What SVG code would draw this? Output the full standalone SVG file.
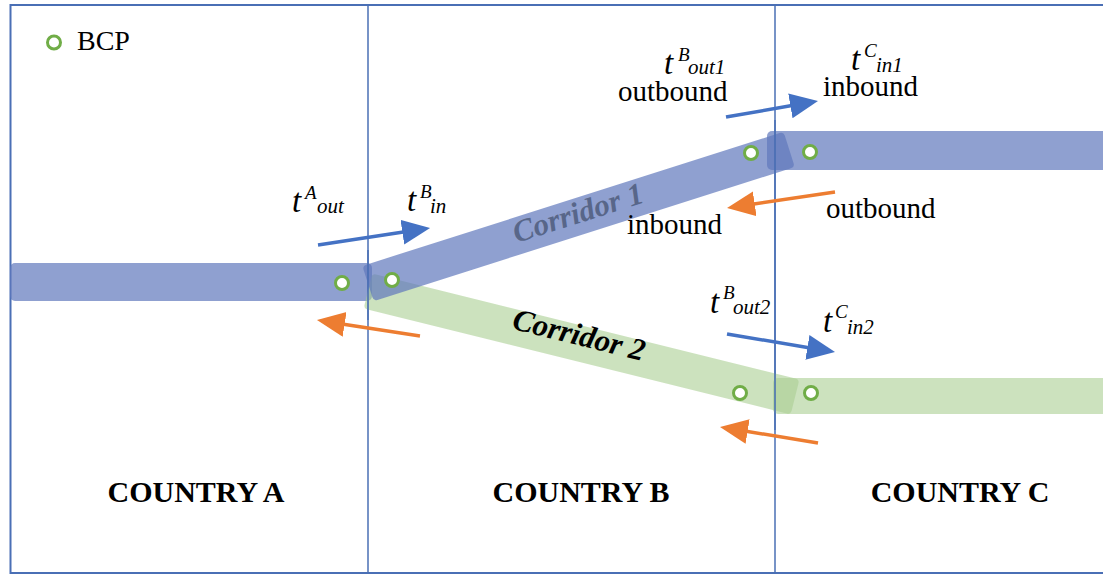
<svg xmlns="http://www.w3.org/2000/svg" width="1103" height="575" viewBox="0 0 1103 575">
<defs>
<style>
.frame{fill:none;stroke:#4A6FB5;stroke-width:2}
.div{stroke:#4A6FB5;stroke-width:1.5}
.blue{fill:#5F77BC;fill-opacity:0.7}
.green{fill:#AACF93;fill-opacity:0.6}
.bcp{fill:#fff;stroke:#70AD47;stroke-width:3}
.ab{stroke:#4472C4;stroke-width:3.5;fill:none}
.ao{stroke:#ED7D31;stroke-width:3.5;fill:none}
.lbl{font-family:"Liberation Serif","Times New Roman",serif;fill:#000}
.t{font-family:"Liberation Serif","Times New Roman",serif;font-style:italic;font-size:33px;fill:#000}
.sup{font-size:19px}
.sub{font-size:21px}
.word{font-size:29px}
.country{font-size:30px;font-weight:bold;text-anchor:middle}
.corr{font-family:"Liberation Serif","Times New Roman",serif;font-style:italic;font-weight:bold;font-size:31px;text-anchor:middle}
</style>
<marker id="hb" markerUnits="userSpaceOnUse" markerWidth="30" markerHeight="26" refX="6" refY="12.5" orient="auto"><path d="M0,0 L28,12.5 L0,25 z" fill="#4472C4"/></marker>
<marker id="ho" markerUnits="userSpaceOnUse" markerWidth="30" markerHeight="26" refX="6" refY="12.5" orient="auto"><path d="M0,0 L28,12.5 L0,25 z" fill="#ED7D31"/></marker>
</defs>
<rect x="0" y="0" width="1103" height="575" fill="#fff"/>

<g id="frame">
<rect class="frame" x="10.5" y="5" width="1100" height="568"/>
<line class="div" x1="368" y1="5" x2="368" y2="573"/>
<line class="div" x1="775" y1="5" x2="775" y2="573"/>
</g>

<g id="bars">
<rect id="barA" class="blue" x="10" y="263" width="362" height="38" rx="5"/>
<rect id="barC1" class="blue" x="767" y="131" width="345" height="39" rx="5"/>
<rect id="barC2" class="green" x="773" y="378" width="340" height="36" rx="5"/>
<rect id="corridor2" class="green" x="0" y="-18" width="440" height="36" rx="4" transform="translate(368,291) rotate(13.94)"/>
<rect id="corridor1" class="blue" x="0" y="-18.5" width="442" height="37" rx="4" transform="translate(368,283.5) rotate(-17.66)"/>
</g>
<line class="div" x1="368" y1="250" x2="368" y2="320"/>
<line class="div" x1="775" y1="120" x2="775" y2="430"/>

<g id="corridor-labels">
<text class="corr" fill="#4E5C7C" fill-opacity="0.85" transform="translate(578,213) rotate(-17.66)" x="0" y="10">Corridor 1</text>
<text class="corr" fill="#000" transform="translate(579,335) rotate(13.94)" x="0" y="10">Corridor 2</text>
</g>

<g id="connectors">
<line class="ab" x1="318" y1="245" x2="408.3" y2="231.3" marker-end="url(#hb)"/>
<line class="ab" x1="726" y1="117" x2="796.3" y2="104.8" marker-end="url(#hb)"/>
<line class="ab" x1="727" y1="334" x2="813.3" y2="348.4" marker-end="url(#hb)"/>
<line class="ao" x1="420" y1="336" x2="338.7" y2="323.4" marker-end="url(#ho)"/>
<line class="ao" x1="835" y1="192" x2="748.8" y2="204.8" marker-end="url(#ho)"/>
<line class="ao" x1="818" y1="443" x2="741.7" y2="430.5" marker-end="url(#ho)"/>
</g>

<g id="bcps">
<circle class="bcp" cx="54" cy="42.5" r="6.5"/>
<circle class="bcp" cx="342" cy="283" r="6.5"/>
<circle class="bcp" cx="392" cy="280" r="6.5"/>
<circle class="bcp" cx="751" cy="153" r="6.5"/>
<circle class="bcp" cx="810" cy="152" r="6.5"/>
<circle class="bcp" cx="740" cy="393" r="6.5"/>
<circle class="bcp" cx="811" cy="393" r="6.5"/>
</g>

<g id="legend">
<text class="lbl" x="77" y="50" font-size="28">BCP</text>
</g>

<g id="time-labels">
<text class="t" x="292" y="212">t<tspan class="sup" x="305" y="199">A</tspan><tspan class="sub" x="317" y="213">out</tspan></text>
<text class="t" x="407" y="211">t<tspan class="sup" x="420" y="198">B</tspan><tspan class="sub" x="430" y="213">in</tspan></text>
<text class="t" x="664" y="74">t<tspan class="sup" x="678" y="61">B</tspan><tspan class="sub" x="688" y="74">out1</tspan></text>
<text class="t" x="851" y="70">t<tspan class="sup" x="864" y="57">C</tspan><tspan class="sub" x="876" y="72">in1</tspan></text>
<text class="t" x="710" y="313">t<tspan class="sup" x="723" y="299">B</tspan><tspan class="sub" x="733" y="314">out2</tspan></text>
<text class="t" x="823" y="332">t<tspan class="sup" x="835" y="318">C</tspan><tspan class="sub" x="847" y="334">in2</tspan></text>
</g>

<g id="direction-labels">
<text class="lbl word" x="618" y="101">outbound</text>
<text class="lbl word" x="823" y="96">inbound</text>
<text class="lbl word" x="627" y="234">inbound</text>
<text class="lbl word" x="826" y="218">outbound</text>
</g>

<g id="countries">
<text class="lbl country" x="196" y="502">COUNTRY A</text>
<text class="lbl country" x="581" y="502">COUNTRY B</text>
<text class="lbl country" x="960" y="502">COUNTRY C</text>
</g>
</svg>
